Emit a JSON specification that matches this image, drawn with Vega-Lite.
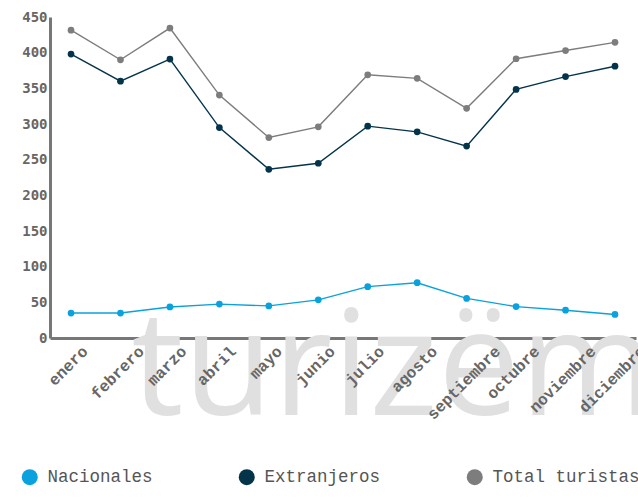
{
  "$schema": "https://vega.github.io/schema/vega-lite/v6.json",
  "width": 586,
  "height": 321,
  "autosize": {"type": "none"},
  "padding": {"left": 50, "top": 17, "right": 2, "bottom": 159},
  "background": "#ffffff",
  "config": {
    "view": {"stroke": null},
    "legend": {"padding": 0},
    "axisX": {
      "title": null,
      "labels": false,
      "ticks": false,
      "domainColor": "#777777",
      "domainWidth": 3,
      "grid": false
    },
    "axisY": {
      "title": null,
      "values": [0, 50, 100, 150, 200, 250, 300, 350, 400, 450],
      "labelFont": "DejaVu Sans Mono",
      "labelFontWeight": "bold",
      "labelFontSize": 14,
      "labelColor": "#666666",
      "ticks": false,
      "labelPadding": 3,
      "domainColor": "#777777",
      "domainWidth": 3,
      "grid": false
    }
  },
  "layer": [
    {
      "data": {"values": [{"mes": "febrero", "nivel": -108, "texto": "turizëm"}]},
      "mark": {
        "type": "text",
        "font": "Open Sans",
        "fontSize": 146,
        "fill": "#e0e0e0",
        "align": "left",
        "baseline": "alphabetic",
        "dx": 11
      },
      "encoding": {
        "x": {
          "field": "mes",
          "type": "nominal",
          "sort": ["enero", "febrero", "marzo", "abril", "mayo", "junio", "julio", "agosto", "septiembre", "octubre", "noviembre", "diciembre"],
          "scale": {"type": "point", "padding": 0.425}
        },
        "y": {
          "field": "nivel",
          "type": "quantitative",
          "scale": {"domain": [0, 450], "nice": false, "zero": false}
        },
        "text": {"field": "texto", "type": "nominal"}
      }
    },
    {
      "data": {
        "values": [
          {"mes": "enero"}, {"mes": "febrero"}, {"mes": "marzo"}, {"mes": "abril"},
          {"mes": "mayo"}, {"mes": "junio"}, {"mes": "julio"}, {"mes": "agosto"},
          {"mes": "septiembre"}, {"mes": "octubre"}, {"mes": "noviembre"}, {"mes": "diciembre"}
        ]
      },
      "mark": {
        "type": "text",
        "font": "Liberation Mono",
        "fontWeight": "bold",
        "fontSize": 16,
        "fill": "#666666",
        "angle": 315,
        "align": "center",
        "baseline": "middle",
        "dx": {"expr": "-length(datum.mes) * 2.4 - 2"},
        "dy": {"expr": "length(datum.mes) * 2.4 - 2"}
      },
      "encoding": {
        "x": {
          "field": "mes",
          "type": "nominal",
          "sort": ["enero", "febrero", "marzo", "abril", "mayo", "junio", "julio", "agosto", "septiembre", "octubre", "noviembre", "diciembre"],
          "scale": {"type": "point", "padding": 0.425}
        },
        "y": {"datum": -15.4},
        "text": {"field": "mes", "type": "nominal"}
      }
    },
    {
      "data": {
        "values": [
          {"mes": "enero", "serie": "Nacionales", "valor": 35},
          {"mes": "febrero", "serie": "Nacionales", "valor": 35},
          {"mes": "marzo", "serie": "Nacionales", "valor": 43.5},
          {"mes": "abril", "serie": "Nacionales", "valor": 47.5},
          {"mes": "mayo", "serie": "Nacionales", "valor": 45},
          {"mes": "junio", "serie": "Nacionales", "valor": 53.5},
          {"mes": "julio", "serie": "Nacionales", "valor": 72},
          {"mes": "agosto", "serie": "Nacionales", "valor": 77.5},
          {"mes": "septiembre", "serie": "Nacionales", "valor": 55.5},
          {"mes": "octubre", "serie": "Nacionales", "valor": 44},
          {"mes": "noviembre", "serie": "Nacionales", "valor": 39},
          {"mes": "diciembre", "serie": "Nacionales", "valor": 33},
          {"mes": "enero", "serie": "Extranjeros", "valor": 398},
          {"mes": "febrero", "serie": "Extranjeros", "valor": 360},
          {"mes": "marzo", "serie": "Extranjeros", "valor": 391},
          {"mes": "abril", "serie": "Extranjeros", "valor": 295},
          {"mes": "mayo", "serie": "Extranjeros", "valor": 236.5},
          {"mes": "junio", "serie": "Extranjeros", "valor": 245},
          {"mes": "julio", "serie": "Extranjeros", "valor": 297},
          {"mes": "agosto", "serie": "Extranjeros", "valor": 289},
          {"mes": "septiembre", "serie": "Extranjeros", "valor": 269},
          {"mes": "octubre", "serie": "Extranjeros", "valor": 348.5},
          {"mes": "noviembre", "serie": "Extranjeros", "valor": 366.5},
          {"mes": "diciembre", "serie": "Extranjeros", "valor": 381},
          {"mes": "enero", "serie": "Total turistas", "valor": 431.5},
          {"mes": "febrero", "serie": "Total turistas", "valor": 390},
          {"mes": "marzo", "serie": "Total turistas", "valor": 434.5},
          {"mes": "abril", "serie": "Total turistas", "valor": 340.5},
          {"mes": "mayo", "serie": "Total turistas", "valor": 281},
          {"mes": "junio", "serie": "Total turistas", "valor": 296},
          {"mes": "julio", "serie": "Total turistas", "valor": 369},
          {"mes": "agosto", "serie": "Total turistas", "valor": 364},
          {"mes": "septiembre", "serie": "Total turistas", "valor": 322},
          {"mes": "octubre", "serie": "Total turistas", "valor": 391.5},
          {"mes": "noviembre", "serie": "Total turistas", "valor": 403},
          {"mes": "diciembre", "serie": "Total turistas", "valor": 414.5}
        ]
      },
      "mark": {"type": "line", "strokeWidth": 1.4, "point": {"filled": true, "size": 45, "opacity": 1}},
      "encoding": {
        "x": {
          "field": "mes",
          "type": "nominal",
          "sort": ["enero", "febrero", "marzo", "abril", "mayo", "junio", "julio", "agosto", "septiembre", "octubre", "noviembre", "diciembre"],
          "scale": {"type": "point", "padding": 0.425}
        },
        "y": {
          "field": "valor",
          "type": "quantitative",
          "scale": {"domain": [0, 450], "nice": false, "zero": false}
        },
        "color": {
          "field": "serie",
          "type": "nominal",
          "scale": {
            "domain": ["Nacionales", "Extranjeros", "Total turistas"],
            "range": ["#0aa2de", "#04344a", "#7d7d7d"]
          },
          "legend": {
            "title": null,
            "orient": "none",
            "direction": "horizontal",
            "legendX": -29,
            "legendY": 451,
            "symbolType": "circle",
            "symbolSize": 256,
            "symbolStrokeWidth": 0,
            "labelFont": "Liberation Mono",
            "labelFontSize": 17.5,
            "labelColor": "#555555",
            "labelOffset": 9,
            "columnPadding": 85,
            "labelLimit": 300,
            "encode": {
              "symbols": {
                "update": {
                  "fill": {"scale": "color", "field": "value"},
                  "stroke": {"value": "transparent"},
                  "opacity": {"value": 1}
                }
              }
            }
          }
        }
      }
    }
  ]
}
